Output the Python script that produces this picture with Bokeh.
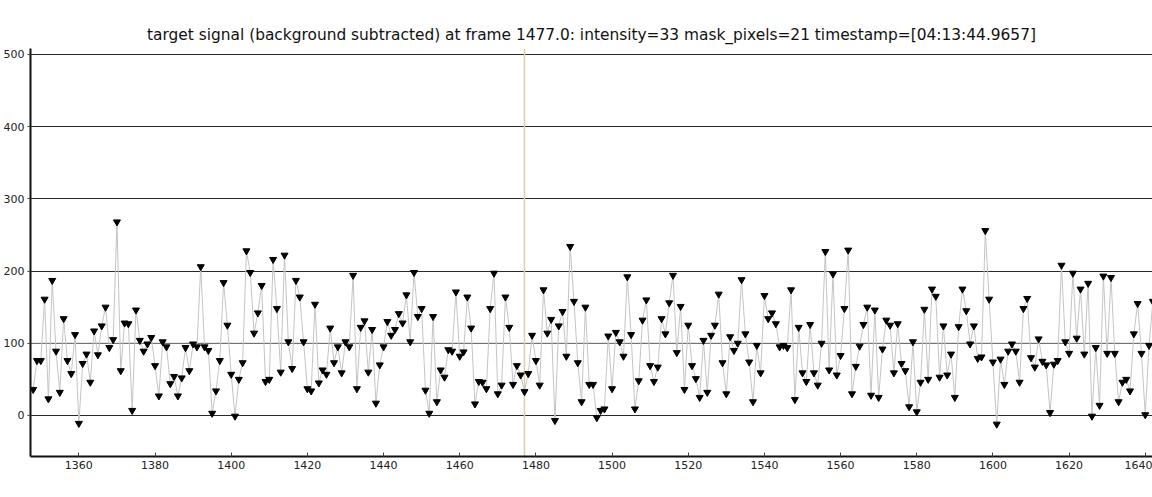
from bokeh.plotting import figure
from bokeh.models import Span, Range1d, FixedTicker
from bokeh.embed import file_html
from bokeh.resources import INLINE

first_frame = 1348
intensity = [
    36, 76, 76, 161, 23, 187, 89, 32, 134, 76, 58, 112,            # 1348-1359
    -11, 72, 85, 46, 117, 84, 124, 150, 94, 105,                   # 1360-1369
    268, 62, 128, 127, 7, 146, 104, 89, 99, 108,                   # 1370-1379
    69, 27, 102, 95, 44, 54, 27, 52, 94, 62,                       # 1380-1389
    99, 95, 206, 95, 90, 3, 34, 76, 184, 125,                      # 1390-1399
    57, -1, 50, 73, 228, 198, 114, 142, 180, 47,                   # 1400-1409
    50, 216, 148, 60, 222, 102, 65, 187, 164, 102,                 # 1410-1419
    37, 34, 154, 45, 63, 57, 121, 73, 95, 59,                      # 1420-1429
    102, 95, 194, 37, 122, 131, 60, 119, 17, 70,                   # 1430-1439
    95, 130, 111, 119, 141, 128, 167, 102, 198, 137,               # 1440-1449
    148, 35, 3, 137, 19, 63, 53, 91, 89, 171,                      # 1450-1459
    82, 88, 164, 121, 16, 47, 46, 37, 148, 197,                    # 1460-1469
    30, 42, 164, 122, 43, 69, 56, 33, 58, 111,                     # 1470-1479
    76, 42, 174, 114, 133, -7, 124, 144, 82, 234,                  # 1480-1489
    158, 73, 19, 150, 43, 43, -3, 7, 9, 110,                       # 1490-1499
    37, 115, 102, 82, 192, 112, 9, 48, 132, 160,                   # 1500-1509
    69, 47, 67, 134, 113, 156, 194, 87, 151, 36,                   # 1510-1519
    125, 69, 51, 25, 104, 32, 111, 125, 168, 73,                   # 1520-1529
    30, 109, 90, 100, 188, 113, 74, 19, 97, 59,                    # 1530-1539
    166, 134, 142, 127, 95, 97, 94, 174, 22, 122,                  # 1540-1549
    59, 47, 126, 59, 42, 100, 227, 63, 196, 56,                    # 1550-1559
    83, 148, 229, 30, 68, 96, 126, 150, 28, 146,                   # 1560-1569
    25, 92, 132, 125, 59, 127, 72, 62, 12, 102,                    # 1570-1579
    5, 46, 147, 50, 175, 165, 53, 124, 56, 85,                     # 1580-1589
    25, 123, 175, 145, 99, 124, 79, 81, 256, 161,                  # 1590-1599
    74, -12, 78, 43, 89, 99, 89, 46, 148, 162,                     # 1600-1609
    80, 67, 106, 75, 70, 4, 71, 76, 208, 102,                      # 1610-1619
    86, 197, 107, 175, 85, 183, -1, 94, 14, 193,                   # 1620-1629
    86, 191, 86, 19, 46, 50, 34, 113, 155, 86,                     # 1630-1639
    1, 97, 158,                                                    # 1640-1642
]
frames = [first_frame + i for i in range(len(intensity))]

cursor_frame = 1477.0
cursor_intensity = 33
mask_pixels = 21
timestamp = "04:13:44.9657"
y_ticks = [0, 100, 200, 300, 400, 500]
x_ticks = [1360, 1380, 1400, 1420, 1440, 1460, 1480, 1500, 1520, 1540, 1560, 1580, 1600, 1620, 1640]

title = (f"target signal (background subtracted) at frame {cursor_frame}: "
         f"intensity={cursor_intensity} mask_pixels={mask_pixels} timestamp=[{timestamp}]")

p = figure(width=1152, height=481, output_backend="svg", toolbar_location=None,
           x_range=Range1d(1347.3, 1641.9), y_range=Range1d(-56.8, 508.2),
           min_border_left=30, min_border_right=0, min_border_top=48, min_border_bottom=25,
           title=title)
p.title.align = "center"
p.title.text_font = "DejaVu Sans"
p.title.text_font_size = "15.4px"
p.title.text_font_style = "normal"
p.title.text_color = "#111111"
p.title.offset = 2

p.outline_line_color = None
p.background_fill_color = "white"
p.border_fill_color = "white"

p.xgrid.grid_line_color = None
p.ygrid.grid_line_color = "#2a2a2a"
p.ygrid.grid_line_width = 1
p.ygrid.ticker = FixedTicker(ticks=y_ticks)

for ax in (p.xaxis[0], p.yaxis[0]):
    ax.axis_line_color = "#111111"
    ax.axis_line_width = 2
    ax.major_label_text_font = "DejaVu Sans"
    ax.major_label_text_font_size = "11px"
    ax.major_label_text_color = "#222222"
    ax.minor_tick_line_color = None
    ax.major_tick_line_color = "#444444"

p.xaxis.ticker = FixedTicker(ticks=x_ticks)
p.xaxis.major_tick_in = 4
p.xaxis.major_tick_out = 0
p.xaxis.major_label_standoff = 4
p.yaxis.ticker = FixedTicker(ticks=y_ticks)
p.yaxis.major_tick_in = 0
p.yaxis.major_tick_out = 3
p.yaxis.major_label_standoff = 3

mid_line = Span(location=100, dimension="width", line_color="#8a8a8a", line_width=1, level="underlay")
p.add_layout(mid_line)
cursor = Span(location=cursor_frame, dimension="height", line_color="#d8d0a4", line_width=1.5, level="underlay")
p.add_layout(cursor)

p.line(frames, intensity, line_color="#c4c4c4", line_width=1)
p.scatter(frames, intensity, marker="inverted_triangle", size=7,
          fill_color="black", line_color="black")

open("out.html", "w").write(file_html(p, INLINE))
